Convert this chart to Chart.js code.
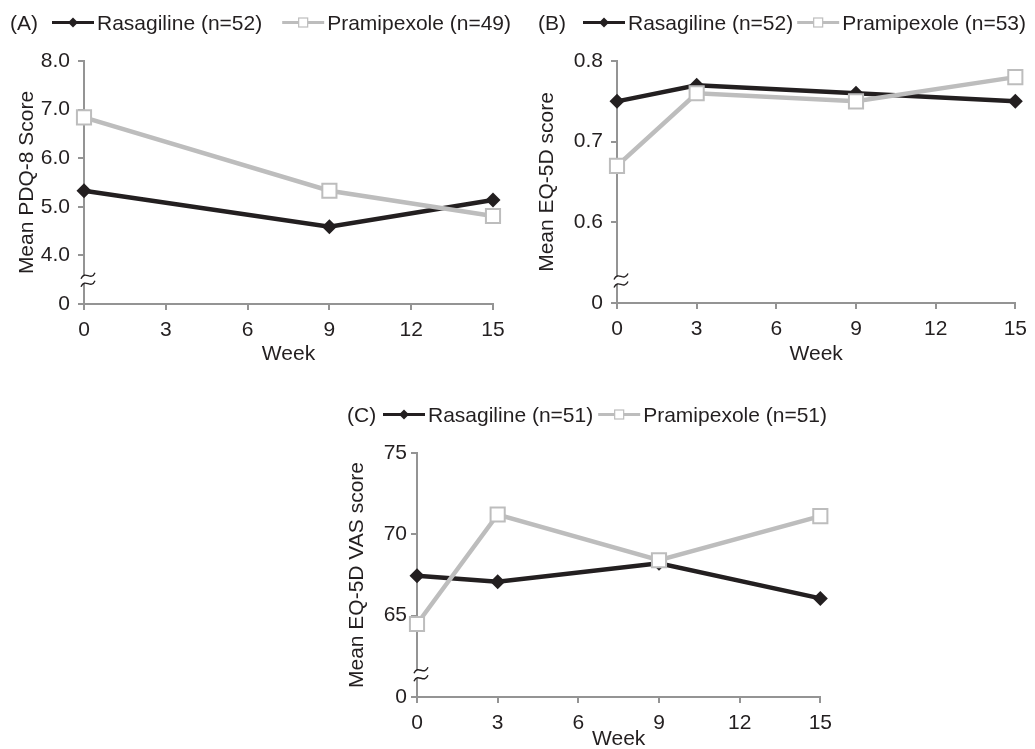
<!DOCTYPE html>
<html>
<head>
<meta charset="utf-8">
<script src="https://cdn.jsdelivr.net/npm/chart.js@4"></script>
<style>
  body { margin: 0; width: 1035px; height: 749px; overflow: hidden; background: #fff; }
  canvas { position: absolute; }
</style>
</head>
<body>
<canvas id="panelA" width="520" height="380" style="left:0;top:0"></canvas>
<canvas id="panelB" width="515" height="380" style="left:520px;top:0"></canvas>
<canvas id="panelC" width="510" height="372" style="left:330px;top:380px"></canvas>
<script>
// x axis is the same for all three panels
const weekTicks = [0, 3, 6, 9, 12, 15];

// (A) PDQ-8
const weeksA = [0, 9, 15];
const rasagilineA = [5.33, 4.59, 5.14];
const pramipexoleA = [6.84, 5.33, 4.81];
const namesA = ["Rasagiline (n=52)", "Pramipexole (n=49)"];
const yTicksA = [3, 4, 5, 6, 7, 8];       // first tick is drawn as the broken "0"

// (B) EQ-5D
const weeksB = [0, 3, 9, 15];
const rasagilineB = [0.75, 0.77, 0.76, 0.75];
const pramipexoleB = [0.67, 0.76, 0.75, 0.78];
const namesB = ["Rasagiline (n=52)", "Pramipexole (n=53)"];
const yTicksB = [0.5, 0.6, 0.7, 0.8];

// (C) EQ-5D VAS
const weeksC = [0, 3, 9, 15];
const rasagilineC = [67.45, 67.08, 68.22, 66.06];
const pramipexoleC = [64.49, 71.22, 68.41, 71.12];
const namesC = ["Rasagiline (n=51)", "Pramipexole (n=51)"];
const yTicksC = [60, 65, 70, 75];

const INK = "#231f20";
const GREY = "#bdbdbd";
const AXIS = "#949494";
const FONT_SIZE = 21;

Chart.defaults.font.family = "'Liberation Sans', Arial, sans-serif";
Chart.defaults.font.size = FONT_SIZE;
Chart.defaults.color = INK;

function pts(xs, ys) {
  return xs.map((x, i) => ({ x: x, y: ys[i] }));
}

function drawDiamond(ctx, x, y, r) {
  ctx.beginPath();
  ctx.moveTo(x - r, y); ctx.lineTo(x, y - r); ctx.lineTo(x + r, y); ctx.lineTo(x, y + r);
  ctx.closePath();
  ctx.fill();
}

function drawSquare(ctx, x, y, h) {
  ctx.fillStyle = "#fff";
  ctx.fillRect(x - h, y - h, 2 * h, 2 * h);
  ctx.strokeRect(x - h, y - h, 2 * h, 2 * h);
}

// legend drawn as in the figure: "(A)" then line+marker samples
const legendPlugin = {
  id: "panelLegend",
  afterDraw(chart, args, opts) {
    const ctx = chart.ctx;
    ctx.save();
    ctx.font = FONT_SIZE + "px " + Chart.defaults.font.family;
    ctx.textBaseline = "alphabetic";
    ctx.fillStyle = INK;
    ctx.fillText(opts.tag, opts.tagX, opts.y);
    const mid = opts.y - 7.5;
    let x = opts.lineX;
    chart.data.datasets.forEach((ds) => {
      ctx.strokeStyle = ds.borderColor;
      ctx.lineWidth = 3;
      ctx.beginPath(); ctx.moveTo(x, mid); ctx.lineTo(x + 42, mid); ctx.stroke();
      if (ds.pointStyle === "rectRot") {
        ctx.fillStyle = ds.borderColor;
        drawDiamond(ctx, x + 21, mid, 5);
      } else {
        ctx.lineWidth = 1.2;
        drawSquare(ctx, x + 21, mid, 4.5);
      }
      ctx.fillStyle = INK;
      ctx.fillText(ds.label, x + 45, opts.y);
      x += 45 + ctx.measureText(ds.label).width + opts.gap;
    });
    ctx.restore();
  }
};

// the squiggle mark on the y axis between 0 and the first real tick
const breakPlugin = {
  id: "axisBreak",
  afterDraw(chart, args, opts) {
    const ctx = chart.ctx;
    const y = chart.scales.y.getPixelForValue(opts.at);
    const x = chart.chartArea.left;
    ctx.save();
    ctx.fillStyle = "#fff";
    ctx.fillRect(x - 2, y - 4, 4, 8);
    ctx.strokeStyle = INK;
    ctx.lineWidth = 1.4;
    [-4, 4].forEach((dy) => {
      const cx = x + 4, cy = y + dy;
      ctx.beginPath();
      ctx.moveTo(cx - 7, cy + 3);
      ctx.bezierCurveTo(cx - 3, cy - 6, cx + 3, cy + 6, cx + 7, cy - 3);
      ctx.stroke();
    });
    ctx.restore();
  }
};

function makePanel(id, p) {
  new Chart(document.getElementById(id), {
    type: "line",
    data: {
      datasets: [
        {
          label: p.names[0],
          data: pts(p.weeks, p.ras),
          borderColor: INK,
          backgroundColor: INK,
          borderWidth: 4.5,
          pointStyle: "rectRot",
          pointRadius: 7.5,
          pointBorderWidth: 0,
          pointBackgroundColor: INK,
          tension: 0,
          clip: false,
          order: 1
        },
        {
          label: p.names[1],
          data: pts(p.weeks, p.pra),
          borderColor: GREY,
          backgroundColor: "#fff",
          borderWidth: 4.5,
          pointStyle: "rect",
          pointRadius: 10,
          pointBorderWidth: 2,
          pointBorderColor: GREY,
          pointBackgroundColor: "#fff",
          tension: 0,
          clip: false,
          order: 0
        }
      ]
    },
    options: {
      responsive: false,
      animation: false,
      events: [],
      layout: { padding: { top: p.top, right: p.right, left: 0, bottom: 0 } },
      plugins: {
        legend: { display: false },
        tooltip: { enabled: false },
        panelLegend: p.legend,
        axisBreak: { at: p.breakAt }
      },
      scales: {
        x: {
          type: "linear",
          min: 0,
          max: 15,
          afterBuildTicks: (s) => { s.ticks = weekTicks.map((v) => ({ value: v })); },
          afterFit: (s) => { s.height = p.xHeight; },
          ticks: { padding: 8, color: INK },
          grid: { drawOnChartArea: false, drawTicks: true, tickLength: 6, color: AXIS, lineWidth: 2 },
          border: { display: true, color: AXIS, width: 2 },
          title: { display: true, text: "Week", color: INK, padding: { top: 0, bottom: p.weekPad } }
        },
        y: {
          type: "linear",
          min: p.yTicks[0],
          max: p.yTicks[p.yTicks.length - 1],
          afterBuildTicks: (s) => { s.ticks = p.yTicks.map((v) => ({ value: v })); },
          afterFit: (s) => { s.width = p.yWidth; },
          ticks: {
            padding: p.yTickPad,
            color: INK,
            callback: (v) => (v === p.yTicks[0] ? "0" : v.toFixed(p.dec))
          },
          grid: { drawOnChartArea: false, drawTicks: true, tickLength: 6, color: AXIS, lineWidth: 2 },
          border: { display: true, color: AXIS, width: 2 },
          title: { display: true, text: p.yTitle, color: INK, padding: { top: 15, bottom: 0 } }
        }
      }
    },
    plugins: [legendPlugin, breakPlugin]
  });
}

makePanel("panelA", {
  weeks: weeksA, ras: rasagilineA, pra: pramipexoleA, names: namesA,
  yTicks: yTicksA, dec: 1, yTitle: "Mean PDQ-8 Score", breakAt: 3.5,
  top: 61, right: 27, yWidth: 84, xHeight: 76, yTickPad: 8, weekPad: 13,
  legend: { tag: "(A)", tagX: 10, lineX: 52, y: 30, gap: 20 }
});

makePanel("panelB", {
  weeks: weeksB, ras: rasagilineB, pra: pramipexoleB, names: namesB,
  yTicks: yTicksB, dec: 1, yTitle: "Mean EQ-5D score", breakAt: 0.528,
  top: 61, right: 12, yWidth: 97, xHeight: 77, yTickPad: 8, weekPad: 13,
  legend: { tag: "(B)", tagX: 18, lineX: 63, y: 30, gap: 4 }
});

makePanel("panelC", {
  weeks: weeksC, ras: rasagilineC, pra: pramipexoleC, names: namesC,
  yTicks: yTicksC, dec: 0, yTitle: "Mean EQ-5D VAS score", breakAt: 61.4,
  top: 73, right: 14, yWidth: 87, xHeight: 55, yTickPad: 4, weekPad: 0,
  legend: { tag: "(C)", tagX: 17, lineX: 53, y: 42, gap: 5 }
});
</script>
</body>
</html>
